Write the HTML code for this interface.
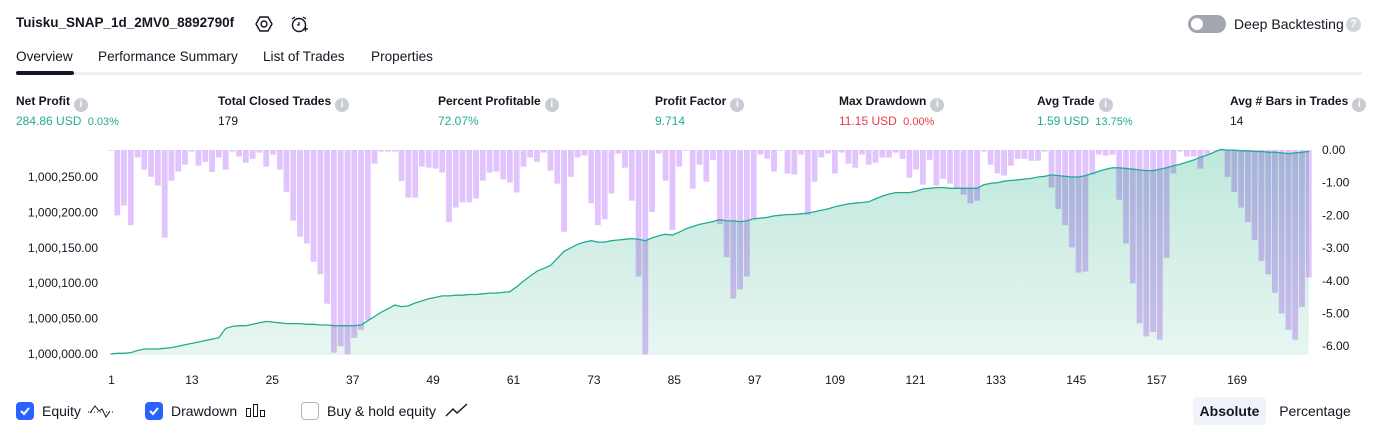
<!DOCTYPE html>
<html><head><meta charset="utf-8"><style>
*{margin:0;padding:0;box-sizing:border-box}
body{width:1379px;height:435px;background:#fff;font-family:"Liberation Sans",sans-serif;color:#131722;position:relative;overflow:hidden}
.a{position:absolute;white-space:nowrap}
.lbl{font-size:12px;font-weight:bold;top:94px}
.val{font-size:12px;top:114px}
.info{display:inline-block;width:14px;height:14px;border-radius:50%;background:#c9ccd3;color:#fff;font-size:10px;text-align:center;line-height:14px;vertical-align:-2px;margin-left:4px;font-weight:bold}
.tab{font-size:13.6px;top:49px}
.cb{width:18px;height:18px;border-radius:4px;top:402px}
.cbt{font-size:14px;top:403px}
</style></head><body>
<div class="a" style="left:16px;top:15px;font-size:13.5px;font-weight:bold">Tuisku_SNAP_1d_2MV0_8892790f</div>
<svg class="a" style="left:255px;top:15px" width="18" height="18"><polygon points="5,2 13,2 17,9 13,16 5,16 1,9" fill="none" stroke="#131722" stroke-width="1.4"/><circle cx="9" cy="9" r="3" fill="none" stroke="#131722" stroke-width="1.4"/></svg>
<svg class="a" style="left:289px;top:14px" width="20" height="20"><circle cx="10" cy="11" r="6.5" fill="none" stroke="#131722" stroke-width="1.4"/><path d="M10 8v3h-2M3 5l3-2M17 5l-3-2M14 15h5M16.5 12.5v5" fill="none" stroke="#131722" stroke-width="1.3"/></svg>
<div class="a" style="left:1188px;top:15px;width:38px;height:18px;border-radius:9px;background:#a3a6af"><div style="position:absolute;left:3px;top:3px;width:12px;height:12px;border-radius:50%;background:#fff"></div></div>
<div class="a" style="left:1234px;top:16px;font-size:14px">Deep Backtesting</div>
<div class="a" style="left:1346px;top:17px;width:15px;height:15px;border-radius:50%;background:#d1d4dc;color:#fff;font-size:11px;text-align:center;line-height:15px;font-weight:bold">?</div>
<div class="a tab" style="left:16px">Overview</div>
<div class="a tab" style="left:98px">Performance Summary</div>
<div class="a tab" style="left:263px">List of Trades</div>
<div class="a tab" style="left:371px">Properties</div>
<div class="a" style="left:16px;top:72px;width:1346px;height:3px;background:#eceef3"></div>
<div class="a" style="left:16px;top:71px;width:58px;height:4px;border-radius:2px;background:#131722"></div>

<div class="a lbl" style="left:16px">Net Profit<span class="info">i</span></div>
<div class="a val" style="left:16px;color:#22ab94">284.86 USD <span style="font-size:11px;margin-left:3px">0.03%</span></div>
<div class="a lbl" style="left:218px">Total Closed Trades<span class="info">i</span></div>
<div class="a val" style="left:218px">179</div>
<div class="a lbl" style="left:438px">Percent Profitable<span class="info">i</span></div>
<div class="a val" style="left:438px;color:#22ab94">72.07%</div>
<div class="a lbl" style="left:655px">Profit Factor<span class="info">i</span></div>
<div class="a val" style="left:655px;color:#22ab94">9.714</div>
<div class="a lbl" style="left:839px">Max Drawdown<span class="info">i</span></div>
<div class="a val" style="left:839px;color:#f23645">11.15 USD <span style="font-size:11px;margin-left:3px">0.00%</span></div>
<div class="a lbl" style="left:1037px">Avg Trade<span class="info">i</span></div>
<div class="a val" style="left:1037px;color:#22ab94">1.59 USD <span style="font-size:11px;margin-left:3px">13.75%</span></div>
<div class="a lbl" style="left:1230px">Avg # Bars in Trades<span class="info">i</span></div>
<div class="a val" style="left:1230px">14</div>

<svg id="chart" class="a" style="left:0;top:0" width="1379" height="395">
<defs><linearGradient id="g" x1="0" y1="0" x2="0" y2="1"><stop offset="0" stop-color="#bfe8dc"/><stop offset="1" stop-color="#e8f6f1"/></linearGradient></defs>
<g id="area"></g><g id="bars" style="mix-blend-mode:multiply"></g><g id="line"></g><g id="axes"></g>
</svg>

<div class="a cb" style="left:16px;background:#2962ff"><svg width="18" height="18"><path d="M5 9l3 3 5-6" fill="none" stroke="#fff" stroke-width="2"/></svg></div>
<div class="a cbt" style="left:42px">Equity</div>
<svg class="a" style="left:87px;top:401px" width="28" height="18"><path d="M1 11h26" stroke="#131722" stroke-dasharray="1,2"/><path d="M3 12l5-7 4 5 3-2 4 8 4-6" fill="none" stroke="#131722" stroke-width="1"/></svg>
<div class="a cb" style="left:145px;background:#2962ff"><svg width="18" height="18"><path d="M5 9l3 3 5-6" fill="none" stroke="#fff" stroke-width="2"/></svg></div>
<div class="a cbt" style="left:171px">Drawdown</div>
<svg class="a" style="left:245px;top:403px" width="22" height="14"><rect x="1.5" y="5.5" width="4" height="8" fill="none" stroke="#131722"/><rect x="8.5" y="1.5" width="4" height="12" fill="none" stroke="#131722"/><rect x="15.5" y="7.5" width="4" height="6" fill="none" stroke="#131722"/></svg>
<div class="a cb" style="left:301px;border:1px solid #b2b5be;background:#fff"></div>
<div class="a cbt" style="left:327px">Buy &amp; hold equity</div>
<svg class="a" style="left:445px;top:402px" width="24" height="16"><path d="M1 14l7-7 4 4 10-9" fill="none" stroke="#131722" stroke-width="1.4"/></svg>
<div class="a" style="left:1193px;top:397px;width:73px;height:28px;background:#f0f3fa;border-radius:4px;font-size:14px;font-weight:bold;text-align:center;line-height:28px">Absolute</div>
<div class="a" style="left:1272px;top:397px;width:86px;height:28px;font-size:14px;text-align:center;line-height:28px">Percentage</div>

<script>
const equity=[0,1,1,2,5,7,7,7,8,9,11,13,15,17,19,21,23,36,39,40,40,42,44,46,45,44,43,43,43,42,42,41,41,40,40,40,40,41,47,53,59,64,69,67,68,72,75,78,80,82,82,83,83,84,84,85,86,86,87,88,95,103,110,117,121,125,135,145,150,155,158,160,158,158,160,161,162,163,162,160,164,167,169,168,172,177,180,183,185,187,190,188,188,187,188,191,192,193,195,196,197,197,198,199,201,203,205,208,210,212,213,214,215,219,223,226,228,228,228,230,233,234,235,235,234,234,234,234,234,239,241,242,244,245,246,247,248,250,251,253,252,251,250,250,252,255,258,261,263,263,262,261,260,259,259,261,263,266,268,271,274,278,281,285,289,288,288,287,287,286,286,285,285,284,283,284,285,286];
const drawdown=[0.02,2.0,1.7,2.3,0.23,0.6,0.82,1.09,2.68,0.94,0.66,0.45,0.05,0.48,0.36,0.67,0.23,0.6,0.05,0.2,0.39,0.27,0.08,0.51,0.14,0.6,1.28,2.16,2.65,2.86,3.42,3.8,4.7,6.2,6.0,6.25,5.75,5.5,5.2,0.42,0.05,0.05,0.05,0.95,1.46,1.46,0.51,0.54,0.57,0.69,2.2,1.76,1.6,1.6,1.48,0.94,0.69,0.66,0.9,1.0,1.3,0.51,0.23,0.36,0.08,0.63,1.03,2.5,0.82,0.23,0.17,1.63,2.3,2.12,1.33,0.11,0.54,1.55,3.87,6.25,1.9,0.11,0.94,2.44,0.51,0.02,1.18,0.45,0.97,0.3,2.27,3.28,4.54,4.26,3.87,2.1,0.14,0.27,0.66,0.02,0.72,0.75,0.14,1.98,0.97,0.23,0.11,0.72,0.08,0.42,0.54,0.14,0.45,0.39,0.23,0.23,0.08,0.27,0.85,0.6,1.06,0.3,1.09,0.88,1.03,1.18,1.36,1.63,1.55,0.05,0.45,0.72,0.78,0.48,0.27,0.27,0.33,0.33,0.05,1.15,1.8,2.3,2.98,3.75,3.72,0.75,0.14,0.17,0.14,1.52,2.86,4.08,5.3,5.7,5.57,5.8,3.3,0.72,0.05,0.2,0.2,0.57,0.14,0.02,0.02,0.82,1.28,1.76,2.2,2.75,3.39,3.8,4.37,5.0,5.5,5.8,4.8,3.9];
const xTicks=[1,13,25,37,49,61,73,85,97,109,121,133,145,157,169];
const leftTicks=[0,50,100,150,200,250];
const leftTickLabels=["1,000,000.00","1,000,050.00","1,000,100.00","1,000,150.00","1,000,200.00","1,000,250.00"];
const rightTicks=[0,1,2,3,4,5,6];
const rightTickLabels=["0.00","-1.00","-2.00","-3.00","-4.00","-5.00","-6.00"];

const NS="http://www.w3.org/2000/svg";
const x=i=>110.5+(i-1)*6.77;
const yL=v=>354-v*0.708;
const yR=v=>150+v*32.7;
const bottom=355;
function mk(t,a,p){const e=document.createElementNS(NS,t);for(const k in a)e.setAttribute(k,a[k]);document.getElementById(p).appendChild(e);return e;}
let pts=equity.map((v,i)=>x(i+1).toFixed(1)+","+yL(v).toFixed(1));
const ar=mk("polygon",{points:x(1)+","+bottom+" "+pts.join(" ")+" "+x(equity.length)+","+bottom,fill:"url(#g)"},"area");


drawdown.forEach((d,i)=>{
 const r=mk("rect",{x:(x(i+1)-2.9).toFixed(1),y:yR(0),width:5.8,height:Math.max(0.6,yR(d)-yR(0)).toFixed(1),fill:"#e1c4fd"},"bars");
 
 
});
const ln=mk("polyline",{points:pts.join(" "),fill:"none",stroke:"#22ab94","stroke-width":1.3},"line");


leftTicks.forEach((v,i)=>{
 const t=mk("text",{x:98,y:yL(v)+4,"text-anchor":"end","font-size":12,fill:"#131722"},"axes");
 t.textContent=leftTickLabels[i];
 
 
});
rightTicks.forEach((v,i)=>{
 const t=mk("text",{x:1322,y:yR(v)+4,"font-size":12,fill:"#131722"},"axes");
 t.textContent=rightTickLabels[i];
 
 
});
xTicks.forEach(v=>{
 const t=mk("text",{x:x(v)+1-(v-1)*0.07,y:384,"text-anchor":"middle","font-size":12,fill:"#131722"},"axes");
 t.textContent=v;
 
 
});
</script>
</body></html>
